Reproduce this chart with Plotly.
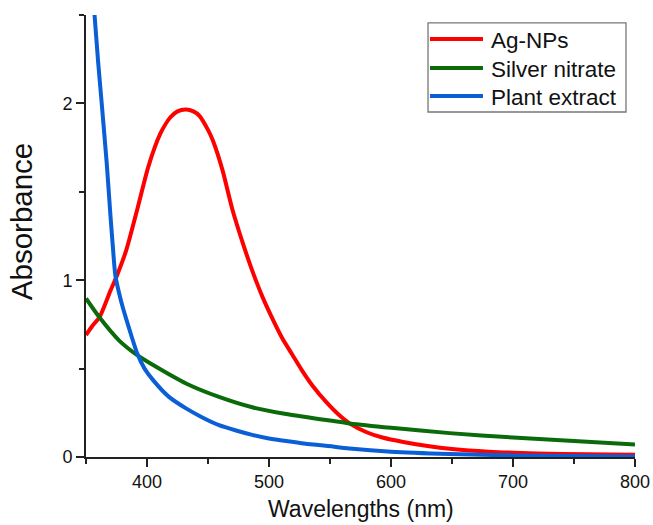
import plotly.graph_objects as go

# Ag-NPs
ag_x = [350, 355, 361, 366, 370, 375, 383, 392, 401, 411, 419, 425, 432, 438, 443, 450, 454,
        462, 470, 479, 487, 495, 503, 511, 519, 527, 536, 547, 557, 566, 580, 593, 610, 630,
        650, 680, 720, 760, 800]
ag_y = [0.69, 0.74, 0.79, 0.87, 0.94, 1.02, 1.17, 1.40, 1.64, 1.83, 1.92, 1.955, 1.965, 1.955,
        1.93, 1.85, 1.79, 1.62, 1.40, 1.20, 1.04, 0.90, 0.78, 0.67, 0.58, 0.49, 0.40, 0.31,
        0.24, 0.19, 0.14, 0.11, 0.085, 0.062, 0.045, 0.03, 0.02, 0.015, 0.013]

# Silver nitrate
sn_x = [350, 361, 377, 392, 405, 432, 459, 487, 514, 547, 566, 600, 648, 700, 750, 800]
sn_y = [0.897, 0.79, 0.66, 0.576, 0.52, 0.416, 0.34, 0.28, 0.243, 0.209, 0.19, 0.165, 0.135,
        0.11, 0.09, 0.07]

# Plant extract
pe_x = [350, 353.5, 357, 360, 363, 367, 370, 372, 374, 377, 380, 383, 387, 392, 398, 405, 418,
        432, 445, 459, 473, 487, 500, 514, 530, 547, 566, 600, 648, 700, 750, 800]
pe_y = [3.13, 2.82, 2.5, 2.23, 1.99, 1.66, 1.37, 1.19, 1.03, 0.93, 0.85, 0.78, 0.69, 0.585,
        0.50, 0.435, 0.34, 0.275, 0.225, 0.18, 0.15, 0.124, 0.105, 0.09, 0.075, 0.063, 0.048,
        0.03, 0.017, 0.009, 0.005, 0.003]

series_names = ["Ag-NPs", "Silver nitrate", "Plant extract"]
series_colors = ["#ff0000", "#0b6b0b", "#0a5fd6"]

x_ticks = [400, 500, 600, 700, 800]
y_ticks = [0, 1, 2]

FONT = "Liberation Sans, Arial, sans-serif"

fig = go.Figure()
for name, xs, ys, col in zip(series_names, [ag_x, sn_x, pe_x], [ag_y, sn_y, pe_y], series_colors):
    fig.add_trace(go.Scatter(x=xs, y=ys, name=name, mode="lines", showlegend=False,
                             line=dict(color=col, width=4, shape="spline", smoothing=0.6)))

axis_common = dict(
    showline=True, linecolor="#222", linewidth=1.6, mirror=False, automargin=False,
    showgrid=False, zeroline=False, ticks="outside", ticklen=8, tickwidth=1.6,
    tickcolor="#222", tickfont=dict(family=FONT, size=18, color="#111"),
)
fig.update_xaxes(range=[350, 800], tickvals=x_ticks,
                 minor=dict(ticks="outside", ticklen=5, tickwidth=1.6, tickcolor="#222", dtick=50, tick0=350),
                 **axis_common)
fig.update_yaxes(range=[0, 2.5], tickvals=y_ticks,
                 minor=dict(ticks="outside", ticklen=5, tickwidth=1.6, tickcolor="#222", dtick=0.5, tick0=0),
                 **axis_common)

fig.add_annotation(text="Absorbance", xref="paper", yref="paper", x=-0.117, y=0.533,
                   xanchor="center", yanchor="middle", textangle=-90, showarrow=False,
                   font=dict(family=FONT, size=29.5, color="#111"))
fig.add_annotation(text="Wavelengths (nm)", xref="paper", yref="paper", x=0.5, y=-0.118,
                   xanchor="center", yanchor="middle", showarrow=False,
                   font=dict(family=FONT, size=23, color="#111"))

# legend box (drawn in paper coordinates)
fig.add_shape(type="rect", xref="paper", yref="paper", x0=0.623, x1=0.9836, y0=0.7805, y1=0.982,
              line=dict(color="#777", width=1.3), fillcolor="white", layer="above")
row_y = [0.9457, 0.8801, 0.8167]
for name, col, ry in zip(series_names, series_colors, row_y):
    fig.add_shape(type="line", xref="paper", yref="paper", x0=0.6266, x1=0.7231, y0=ry, y1=ry,
                  line=dict(color=col, width=4), layer="above")
    fig.add_annotation(text=name, xref="paper", yref="paper", x=0.734, y=ry - 0.004,
                       xanchor="left", yanchor="middle", showarrow=False,
                       font=dict(family=FONT, size=22.5, color="#111"))

fig.update_layout(
    width=653, height=525,
    margin=dict(l=86, r=18, t=15, b=68),
    paper_bgcolor="white", plot_bgcolor="white",
    showlegend=False,
)

fig.write_html("out.html")
